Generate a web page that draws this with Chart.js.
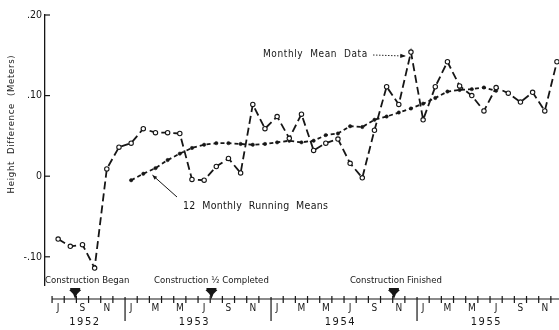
<!DOCTYPE html>
<html>
<head>
<meta charset="utf-8">
<script src="https://cdn.jsdelivr.net/npm/chart.js@4/dist/chart.umd.min.js"></script>
<style>
  html, body { margin: 0; padding: 0; background: #fff; }
  #wrap { width: 559px; height: 330px; position: relative; }
</style>
</head>
<body>
<div id="wrap"><canvas id="c" width="559" height="330"></canvas></div>
<script>
// Months covered, July 1952 through December 1955
const months = [
  '1952-07','1952-08','1952-09','1952-10','1952-11','1952-12',
  '1953-01','1953-02','1953-03','1953-04','1953-05','1953-06','1953-07','1953-08','1953-09','1953-10','1953-11','1953-12',
  '1954-01','1954-02','1954-03','1954-04','1954-05','1954-06','1954-07','1954-08','1954-09','1954-10','1954-11','1954-12',
  '1955-01','1955-02','1955-03','1955-04','1955-05','1955-06','1955-07','1955-08','1955-09','1955-10','1955-11','1955-12'
];

// Monthly mean height difference (m)
const monthlyMean = [
  -0.078, -0.087, -0.085, -0.114, 0.009, 0.036,
  0.041, 0.059, 0.054, 0.054, 0.053, -0.004, -0.005, 0.012, 0.022, 0.004, 0.089, 0.059,
  0.074, 0.047, 0.077, 0.032, 0.041, 0.046, 0.016, -0.002, 0.057, 0.111, 0.089, 0.154,
  0.070, 0.111, 0.142, 0.112, 0.100, 0.081, 0.110, 0.103, 0.092, 0.104, 0.081, 0.142
];

// 12-month running means, January 1953 through July 1955
const runningStart = '1953-01';
const runningMean = [
  -0.005, 0.003, 0.010, 0.020, 0.028, 0.035, 0.039, 0.041, 0.041, 0.040, 0.039, 0.040,
  0.042, 0.044, 0.042, 0.044, 0.051, 0.053, 0.062, 0.061, 0.070, 0.074, 0.079, 0.084,
  0.090, 0.097, 0.105, 0.107, 0.108, 0.110, 0.106
];

// Y axis ticks and labels
const yTicks = [-0.10, 0, 0.10, 0.20];
const yTickLabels = ['-.10', '0', '.10', '.20'];

// Month initials for the time line (labelled on alternate months)
const monthInitials = ['J','F','M','A','M','J','J','A','S','O','N','D'];
const years = ['1952', '1953', '1954', '1955'];

// Construction milestones (fractional month position, label)
const milestones = [
  { month: 1.4, label: 'Construction Began' },
  { month: 12.6, label: 'Construction \u00BD Completed' },
  { month: 27.6, label: 'Construction Finished' }
];

const FONT = "'DejaVu Sans Condensed', 'Liberation Sans Narrow', 'DejaVu Sans', sans-serif";
const INK = '#161616';

const runOffset = months.indexOf(runningStart);
const meanPts = monthlyMean.map((v, i) => ({ x: i, y: v }));
const runPts = runningMean.map((v, i) => ({ x: i + runOffset, y: v }));

function text(ctx, str, x, y, size, opts = {}) {
  ctx.save();
  ctx.font = (opts.weight || '') + ' ' + size + 'px ' + FONT;
  ctx.fillStyle = INK;
  ctx.textAlign = opts.align || 'left';
  ctx.textBaseline = 'middle';
  ctx.letterSpacing = (opts.spacing || 0) + 'px';
  if (opts.rotate) {
    ctx.translate(x, y);
    ctx.rotate(opts.rotate);
    ctx.fillText(str, 0, 0);
  } else {
    ctx.fillText(str, x, y);
  }
  ctx.restore();
}

// horizontal nudges for the milestone captions relative to their markers
const captionShift = [12, 0, 2];

const decorations = {
  id: 'decorations',
  afterDraw(chart) {
    const ctx = chart.ctx;
    const xs = chart.scales.x, ys = chart.scales.y;
    const area = chart.chartArea;
    const px = v => xs.getPixelForValue(v);

    ctx.save();
    ctx.strokeStyle = INK;
    ctx.lineWidth = 1.2;

    // inner y ticks
    yTicks.forEach(v => {
      const y = ys.getPixelForValue(v);
      ctx.beginPath(); ctx.moveTo(area.left, y); ctx.lineTo(area.left + 5, y); ctx.stroke();
    });

    // y title
    text(ctx, 'Height  Difference  (Meters)', 12, 124, 9.5, { align: 'center', spacing: 0.7, rotate: -Math.PI / 2 });

    // time line
    const lineY = 299;
    const startX = px(-0.5);
    ctx.beginPath(); ctx.moveTo(startX, lineY); ctx.lineTo(559, lineY); ctx.stroke();
    for (let i = 0; i <= months.length; i++) {
      const x = px(i - 0.5);
      if (x > 559) break;
      const m = (6 + i) % 12;
      ctx.beginPath();
      if (m === 0 && i > 0) { ctx.moveTo(x, lineY - 2); ctx.lineTo(x, lineY + 22); }
      else { ctx.moveTo(x, lineY - 3); ctx.lineTo(x, lineY + 4); }
      ctx.stroke();
    }
    months.forEach((key, i) => {
      const m = parseInt(key.slice(5), 10) - 1;
      if (m % 2 === 0) text(ctx, monthInitials[m], px(i), lineY + 9, 10, { align: 'center' });
    });
    // year captions, placed under the middle of each year's span on the line
    years.forEach(yr => {
      const idx = months.filter(k => k.startsWith(yr)).map(k => months.indexOf(k));
      let mid = (idx[0] + idx[idx.length - 1]) / 2 - 0.3;
      if (yr === '1952') mid = idx[0] + 2.2;
      text(ctx, yr, px(mid), lineY + 23, 11, { align: 'center', spacing: 1.5 });
    });

    // milestones
    milestones.forEach((ms, k) => {
      const x = px(ms.month);
      ctx.fillStyle = INK;
      ctx.beginPath();
      ctx.moveTo(x - 6, lineY - 9);
      ctx.lineTo(x + 6, lineY - 9);
      ctx.lineTo(x + 2, lineY - 5);
      ctx.lineTo(x, lineY);
      ctx.lineTo(x - 2, lineY - 5);
      ctx.closePath();
      ctx.fill();
      ctx.fillRect(x - 5, lineY - 11, 10, 3);
      text(ctx, ms.label, x + captionShift[k], 281, 9.5, { align: 'center' });
    });

    // series captions
    text(ctx, 'Monthly  Mean  Data', 263, 54, 10, { spacing: 0.6 });
    text(ctx, '12  Monthly  Running  Means', 183, 206, 10.5, { spacing: 0.3 });

    // pointer to monthly data peak (dotted with arrow head)
    const peak = { x: px(29) - 5, y: ys.getPixelForValue(monthlyMean[29]) + 4 };
    ctx.lineWidth = 0.9;
    ctx.setLineDash([1.5, 1.5]);
    ctx.beginPath(); ctx.moveTo(373, 55); ctx.lineTo(peak.x, peak.y); ctx.stroke();
    ctx.setLineDash([]);
    let a = Math.atan2(peak.y - 55, peak.x - 373);
    ctx.beginPath();
    ctx.moveTo(peak.x, peak.y);
    ctx.lineTo(peak.x - 6 * Math.cos(a - 0.35), peak.y - 6 * Math.sin(a - 0.35));
    ctx.lineTo(peak.x - 6 * Math.cos(a + 0.35), peak.y - 6 * Math.sin(a + 0.35));
    ctx.closePath(); ctx.fill();

    // pointer to running mean
    const rp = { x: px(8) - 3, y: ys.getPixelForValue(runningMean[2]) + 7 };
    ctx.lineWidth = 1;
    ctx.beginPath(); ctx.moveTo(177, 197); ctx.lineTo(rp.x, rp.y); ctx.stroke();
    a = Math.atan2(rp.y - 197, rp.x - 177);
    ctx.beginPath();
    ctx.moveTo(rp.x, rp.y);
    ctx.lineTo(rp.x - 5 * Math.cos(a - 0.4), rp.y - 5 * Math.sin(a - 0.4));
    ctx.lineTo(rp.x - 5 * Math.cos(a + 0.4), rp.y - 5 * Math.sin(a + 0.4));
    ctx.closePath(); ctx.fill();

    ctx.restore();
  }
};

new Chart(document.getElementById('c'), {
  type: 'line',
  data: {
    datasets: [
      {
        label: 'Monthly Mean Data',
        data: meanPts,
        borderColor: INK,
        borderWidth: 1.8,
        borderDash: [8, 4],
        pointRadius: 2.2,
        pointBackgroundColor: '#fff',
        pointBorderColor: INK,
        pointBorderWidth: 1.1,
        tension: 0,
        fill: false,
        clip: false
      },
      {
        label: '12 Monthly Running Means',
        data: runPts,
        borderColor: INK,
        borderWidth: 1.8,
        borderDash: [4, 3],
        pointRadius: 1.7,
        pointBackgroundColor: INK,
        pointBorderColor: INK,
        pointBorderWidth: 0.5,
        tension: 0,
        fill: false,
        clip: false
      }
    ]
  },
  options: {
    responsive: false,
    animation: false,
    events: [],
    layout: { padding: { left: 0, right: 0, top: 15, bottom: 45 } },
    plugins: { legend: { display: false }, tooltip: { enabled: false } },
    scales: {
      x: { type: 'linear', min: -1.08, max: 40.75, display: false },
      y: {
        min: -0.135,
        max: 0.20,
        afterBuildTicks: s => { s.ticks = yTicks.map(v => ({ value: v })); },
        afterFit: s => { s.width = 45; },
        grid: { display: false, drawTicks: false },
        border: { display: true, color: INK, width: 1.3 },
        ticks: {
          padding: 3,
          color: INK,
          font: { family: FONT, size: 10.5 },
          callback: v => yTickLabels[yTicks.findIndex(t => Math.abs(t - v) < 1e-9)]
        }
      }
    }
  },
  plugins: [decorations]
});
</script>
</body>
</html>
